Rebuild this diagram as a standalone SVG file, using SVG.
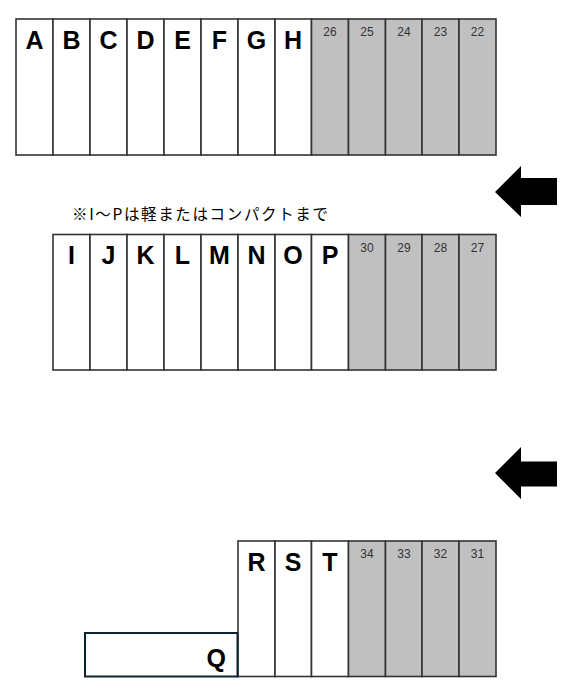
<svg xmlns="http://www.w3.org/2000/svg" width="567" height="697" viewBox="0 0 567 697">
<style>
.w{fill:#ffffff;stroke:#333333;stroke-width:1.6}
.g{fill:#c0c0c0;stroke:#333333;stroke-width:1.6}
.L{font-family:"Liberation Sans",Arial,sans-serif;font-weight:bold;font-size:25px;fill:#000;text-anchor:middle}
.N{font-family:"Liberation Sans",Arial,sans-serif;font-size:12px;fill:#333;text-anchor:middle}
.note{font-family:"Noto Sans CJK JP",sans-serif;font-size:15.5px;fill:#000}
.arrow{fill:#000}
</style>
<rect width="567" height="697" fill="#ffffff"/>
<g id="row1">
<g id="A"><rect class="w" x="16" y="19" width="37" height="136"/><text class="L" x="34.5" y="49">A</text></g>
<g id="B"><rect class="w" x="53" y="19" width="37" height="136"/><text class="L" x="71.5" y="49">B</text></g>
<g id="C"><rect class="w" x="90" y="19" width="37" height="136"/><text class="L" x="108.5" y="49">C</text></g>
<g id="D"><rect class="w" x="127" y="19" width="37" height="136"/><text class="L" x="145.5" y="49">D</text></g>
<g id="E"><rect class="w" x="164" y="19" width="37" height="136"/><text class="L" x="182.5" y="49">E</text></g>
<g id="F"><rect class="w" x="201" y="19" width="37" height="136"/><text class="L" x="219.5" y="49">F</text></g>
<g id="G"><rect class="w" x="238" y="19" width="37" height="136"/><text class="L" x="256.5" y="49">G</text></g>
<g id="H"><rect class="w" x="275" y="19" width="36.5" height="136"/><text class="L" x="293" y="49">H</text></g>
<g id="n26"><rect class="g" x="311.5" y="19" width="37" height="136"/><text class="N" x="330" y="36">26</text></g>
<g id="n25"><rect class="g" x="348.5" y="19" width="37" height="136"/><text class="N" x="367" y="36">25</text></g>
<g id="n24"><rect class="g" x="385.5" y="19" width="36.5" height="136"/><text class="N" x="404" y="36">24</text></g>
<g id="n23"><rect class="g" x="422" y="19" width="37" height="136"/><text class="N" x="440.5" y="36">23</text></g>
<g id="n22"><rect class="g" x="459" y="19" width="37" height="136"/><text class="N" x="477.5" y="36">22</text></g>
</g>
<g id="note"><text class="note" x="72" y="220" textLength="256" lengthAdjust="spacing">※I～Pは軽またはコンパクトまで</text></g>
<g id="row2">
<g id="I"><rect class="w" x="53" y="234.5" width="37" height="135.5"/><text class="L" x="71.5" y="264">I</text></g>
<g id="J"><rect class="w" x="90" y="234.5" width="37" height="135.5"/><text class="L" x="108.5" y="264">J</text></g>
<g id="K"><rect class="w" x="127" y="234.5" width="37" height="135.5"/><text class="L" x="145.5" y="264">K</text></g>
<g id="Lc"><rect class="w" x="164" y="234.5" width="37" height="135.5"/><text class="L" x="182.5" y="264">L</text></g>
<g id="M"><rect class="w" x="201" y="234.5" width="37" height="135.5"/><text class="L" x="219.5" y="264">M</text></g>
<g id="Nc"><rect class="w" x="238" y="234.5" width="37" height="135.5"/><text class="L" x="256.5" y="264">N</text></g>
<g id="O"><rect class="w" x="275" y="234.5" width="36.5" height="135.5"/><text class="L" x="293" y="264">O</text></g>
<g id="P"><rect class="w" x="311.5" y="234.5" width="37" height="135.5"/><text class="L" x="330" y="264">P</text></g>
<g id="n30"><rect class="g" x="348.5" y="234.5" width="37" height="135.5"/><text class="N" x="367" y="251.5">30</text></g>
<g id="n29"><rect class="g" x="385.5" y="234.5" width="36.5" height="135.5"/><text class="N" x="404" y="251.5">29</text></g>
<g id="n28"><rect class="g" x="422" y="234.5" width="37" height="135.5"/><text class="N" x="440.5" y="251.5">28</text></g>
<g id="n27"><rect class="g" x="459" y="234.5" width="37" height="135.5"/><text class="N" x="477.5" y="251.5">27</text></g>
</g>
<g id="row3">
<g id="R"><rect class="w" x="238" y="541" width="37" height="135.5"/><text class="L" x="256.5" y="571">R</text></g>
<g id="S"><rect class="w" x="275" y="541" width="36.5" height="135.5"/><text class="L" x="293" y="571">S</text></g>
<g id="T"><rect class="w" x="311.5" y="541" width="37" height="135.5"/><text class="L" x="330" y="571">T</text></g>
<g id="n34"><rect class="g" x="348.5" y="541" width="37" height="135.5"/><text class="N" x="367" y="558">34</text></g>
<g id="n33"><rect class="g" x="385.5" y="541" width="36.5" height="135.5"/><text class="N" x="404" y="558">33</text></g>
<g id="n32"><rect class="g" x="422" y="541" width="37" height="135.5"/><text class="N" x="440.5" y="558">32</text></g>
<g id="n31"><rect class="g" x="459" y="541" width="37" height="135.5"/><text class="N" x="477.5" y="558">31</text></g>
</g>
<g id="Q"><rect x="85" y="633" width="152.5" height="43.5" fill="#ffffff" stroke="#0d2430" stroke-width="2"/><text class="L" x="226" y="667" style="text-anchor:end">Q</text></g>
<g id="connectors">
<polygon class="arrow" points="495,192 521,166 521,178 557,178 557,205 521,205 521,217"/>
<polygon class="arrow" points="495,473 521,447 521,461.5 557,461.5 557,486.5 521,486.5 521,499"/>
</g>
</svg>
